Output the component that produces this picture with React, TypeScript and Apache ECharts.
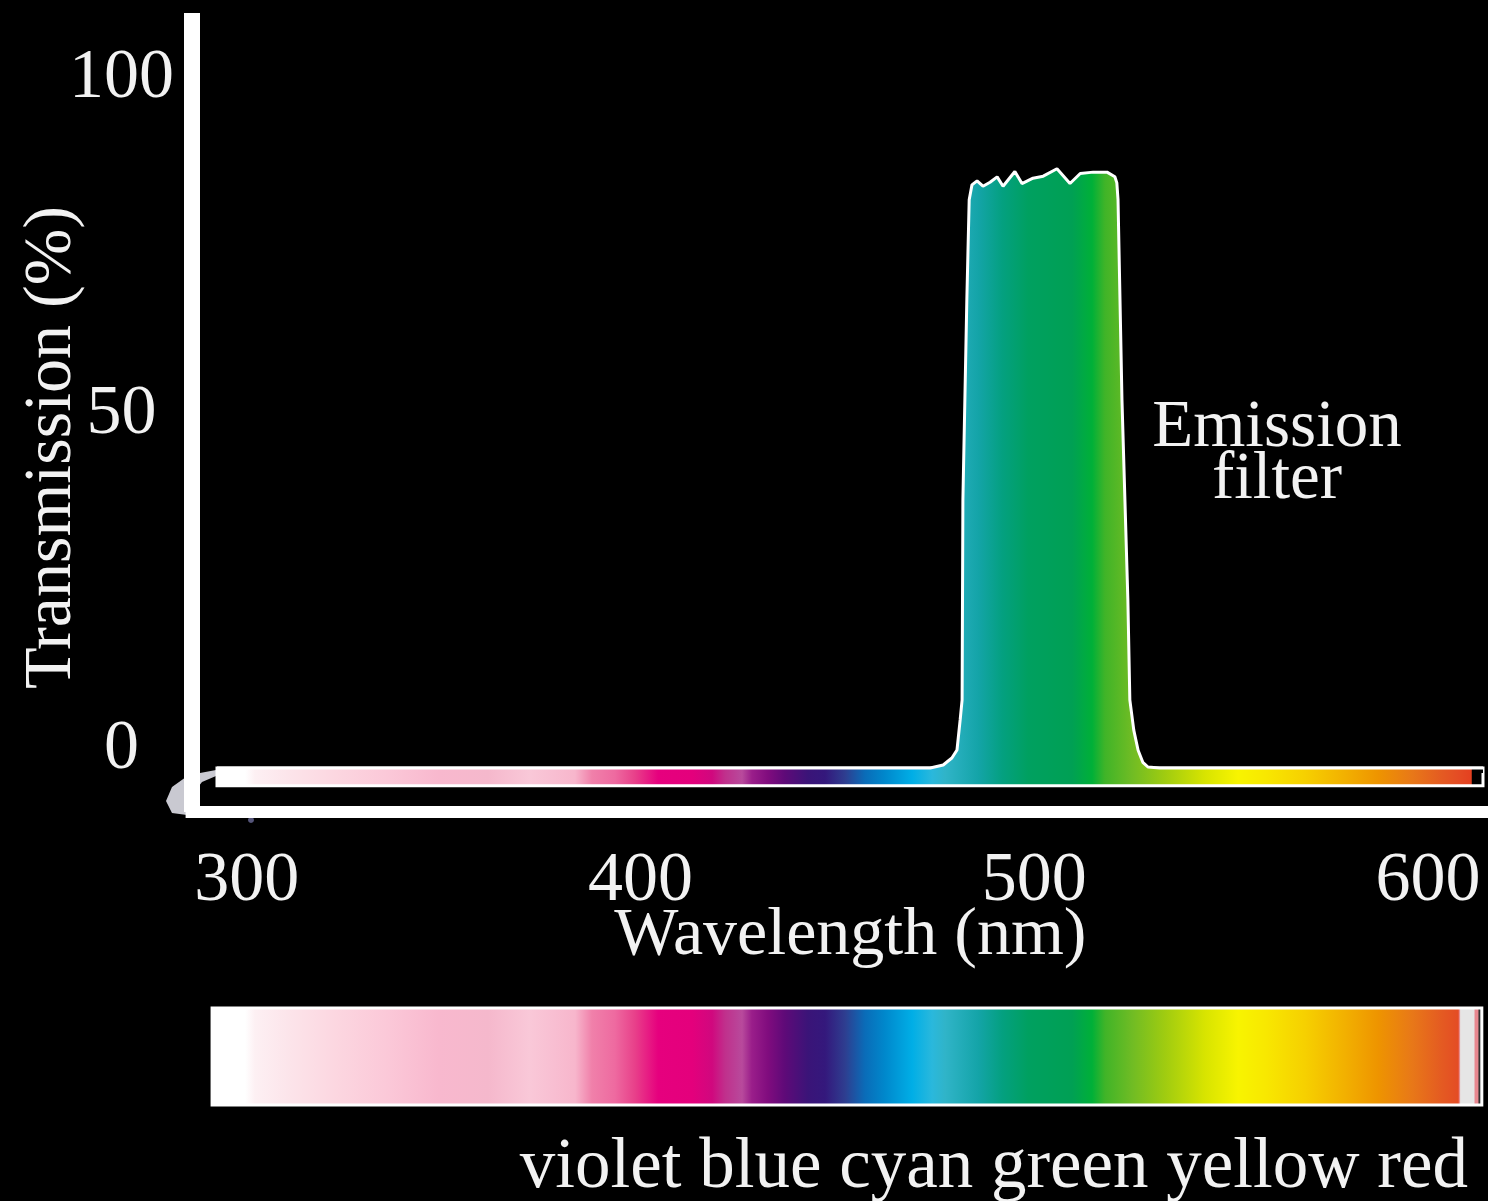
import React, { useEffect, useRef } from "react";
import * as echarts from "echarts";

// ---- data ----
const X_TICKS = [300, 400, 500, 600];
const Y_TICKS = [0, 50, 100];
const X_RANGE = [286, 614];
const Y_RANGE = [-10, 109];

// Emission filter transmission curve (wavelength nm, transmission %)
const EMISSION_NM = [
  292.45, 473.6, 476.9, 479.1, 480.4, 481.2, 481.7, 481.9, 482.9, 483.5, 484.2,
  485.5, 487.0, 488.8, 490.6, 492.1, 495.1, 496.9, 499.7, 502.3, 505.8, 509.1,
  511.7, 515.0, 518.5, 520.5, 521.0, 521.3, 522.3, 523.8, 524.3, 525.3, 526.4,
  527.6, 528.9, 531.9, 614,
];
const EMISSION_T = [
  -3.45, -3.45, -3.0, -1.96, -0.77, 3.7, 6.7, 36.5, 66.3, 81.2, 83.4,
  84.0, 83.2, 83.8, 84.6, 83.2, 85.4, 83.6, 84.4, 84.7, 85.8, 83.6,
  85.1, 85.3, 85.3, 84.6, 83.7, 81.2, 51.4, 21.6, 6.7, 2.2, -0.8,
  -2.6, -3.3, -3.45, -3.45,
];

// Spectrum strip inside the plot: [from nm, to nm, top %, bottom %]
const STRIP = [[292.45, 614, -3.45, -6.1]];

// Spectrum colour stops (wavelength nm -> colour)
const SPECTRUM_NM = [
  299.6, 302.1, 311.0, 323.2, 335.9, 348.6, 361.3, 371.9, 383.4, 387.7, 393.5,
  398.6, 404.5, 413.1, 418.2, 421.5, 425.8, 428.3, 432.4, 436.7, 442.6, 446.9,
  452.0, 457.0, 462.1, 469.0, 474.1, 477.4, 485.8, 491.9, 498.5, 509.6, 514.7,
  518.0, 524.9, 533.3, 543.4, 551.8, 558.7, 568.8, 579.0, 587.4, 596.0, 603.6,
  607.7,
];
const SPECTRUM_COLORS = [
  "#ffffff", "#fdf0f3", "#fce4ea", "#fcd6e0", "#fbc8d8", "#f8b8ce", "#f5b8cc", "#f9c8d8", "#f7b6cc", "#f080aa", "#ee6aa0",
  "#e8408a", "#e6007e", "#e4007c", "#d0087e", "#c0308c", "#b84a9c", "#9a1e8a", "#800c7e", "#5e0a78", "#3a1478", "#34187c",
  "#2e3e90", "#0a6cb8", "#0088cc", "#00aee6", "#2ab8dc", "#30b4c8", "#14a4a8", "#04a080", "#00a060", "#00a054", "#00b038",
  "#40b428", "#70bc24", "#a0cc10", "#d8e400", "#f8f400", "#f8e800", "#f6d000", "#f2b000", "#ee9400", "#e87818", "#e45a22",
  "#e44c24",
];

// Colour bar under the chart (nm range)
const BAR_NM = [291.2, 613.7];
const BAND_LABELS = "violet blue cyan green yellow red";
const FILTER_LINES = ["Emission", "filter"];

const FONT = "Liberation Serif";
const TEXT = "#f2f2f2";

function spectrumStops(a: number, b: number, tail: [number, string][]) {
  const stops: { offset: number; color: string }[] = [{ offset: 0, color: "#ffffff" }];
  const push = (nm: number, color: string) => {
    const o = Math.min(1, Math.max(0, (nm - a) / (b - a)));
    if (o >= stops[stops.length - 1].offset) stops.push({ offset: o, color });
  };
  SPECTRUM_NM.forEach((nm, i) => push(nm, SPECTRUM_COLORS[i]));
  tail.forEach(([nm, c]) => push(nm, c));
  return stops;
}

export default function App() {
  const ref = useRef<HTMLDivElement>(null);
  useEffect(() => {
    document.body.style.margin = "0";
    document.body.style.background = "#000";
    const chart = echarts.init(ref.current!, null, { renderer: "svg" });

    const stripStops = spectrumStops(STRIP[0][0], STRIP[0][1], [
      [611.0, "#e44020"],
      [611.3, "#000000"],
      [STRIP[0][1], "#000000"],
    ]);
    const stripGrad = new echarts.graphic.LinearGradient(0, 0, 1, 0, stripStops);
    const areaGrad = new echarts.graphic.LinearGradient(0, 0, 1, 0, stripStops);

    chart.setOption({
      animation: false,
      backgroundColor: "#000",
      grid: {
        left: 191.6,
        right: 5,
        top: 13,
        bottom: 389,
        containLabel: false,
        outerBoundsMode: "none",
      },
      xAxis: {
        type: "value",
        min: X_RANGE[0],
        max: X_RANGE[1],
        name: "Wavelength (nm)",
        nameLocation: "middle",
        nameGap: 119,
        nameMoveOverlap: false,
        nameTextStyle: {
          color: TEXT,
          fontFamily: FONT,
          fontSize: 68,
          lineHeight: 50,
          verticalAlign: "middle",
          padding: [0, 0, 0, 26],
        },
        axisLine: {
          show: true,
          onZero: false,
          lineStyle: { color: "#fff", width: 12, cap: "square" },
        },
        axisTick: { show: false },
        splitLine: { show: false },
        axisLabel: {
          customValues: X_TICKS,
          color: TEXT,
          fontFamily: FONT,
          fontSize: 70,
          lineHeight: 50,
          margin: 64,
          verticalAlign: "middle",
        },
      },
      yAxis: {
        type: "value",
        min: Y_RANGE[0],
        max: Y_RANGE[1],
        name: "Transmission (%)",
        nameLocation: "middle",
        nameRotate: 90,
        nameGap: 145,
        nameMoveOverlap: false,
        nameTextStyle: {
          color: TEXT,
          fontFamily: FONT,
          fontSize: 68,
          verticalAlign: "middle",
          padding: [0, 70, 0, 0],
        },
        axisLine: {
          show: true,
          onZero: false,
          lineStyle: { color: "#fff", width: 16, cap: "butt" },
        },
        axisTick: { show: false },
        splitLine: { show: false },
        axisLabel: {
          customValues: Y_TICKS,
          color: TEXT,
          fontFamily: FONT,
          fontSize: 70,
          margin: 70,
          align: "center",
        },
      },
      series: [
        {
          type: "custom",
          name: "spectrum strip",
          z: 1,
          encode: { x: [0, 1], y: [2, 3] },
          data: STRIP,
          renderItem: (_p: any, api: any) => {
            const p0 = api.coord([api.value(0), api.value(2)]);
            const p1 = api.coord([api.value(1), api.value(3)]);
            return {
              type: "rect",
              shape: { x: p0[0], y: p0[1], width: p1[0] - p0[0], height: p1[1] - p0[1] },
              style: { fill: stripGrad, stroke: "#fff", lineWidth: 3 },
            };
          },
        },
        {
          type: "line",
          name: "Emission filter",
          z: 2,
          data: EMISSION_NM.map((nm, i) => [nm, EMISSION_T[i]]),
          symbol: "none",
          showSymbol: false,
          lineStyle: { color: "#fff", width: 3 },
          areaStyle: { origin: -4.2, color: areaGrad, opacity: 1 },
        },
      ],
    });

    const bx0 = chart.convertToPixel({ xAxisIndex: 0 }, BAR_NM[0]) as number;
    const bx1 = chart.convertToPixel({ xAxisIndex: 0 }, BAR_NM[1]) as number;
    const barStops = spectrumStops(BAR_NM[0], BAR_NM[1], [
      [608.0, "#e88080"],
      [608.3, "#e6e6e6"],
      [611.7, "#e6e6e6"],
      [612.0, "#e88890"],
      [612.7, "#e88890"],
      [613.0, "#333333"],
      [BAR_NM[1], "#333333"],
    ]);

    chart.setOption({
      graphic: [
        {
          type: "rect",
          shape: { x: bx0, y: 1008, width: bx1 - bx0, height: 97 },
          style: {
            fill: new echarts.graphic.LinearGradient(0, 0, 1, 0, barStops),
            stroke: "#fff",
            lineWidth: 3,
          },
        },
        {
          type: "text",
          x: 1468,
          y: 1163,
          style: {
            text: BAND_LABELS,
            fill: TEXT,
            fontFamily: FONT,
            fontSize: 71,
            align: "right",
            verticalAlign: "middle",
          },
        },
        {
          type: "text",
          x: 1277,
          y: 423,
          style: {
            text: FILTER_LINES[0],
            fill: TEXT,
            fontFamily: FONT,
            fontSize: 67,
            lineHeight: 48,
            align: "center",
            verticalAlign: "middle",
          },
        },
        {
          type: "text",
          x: 1277,
          y: 475,
          style: {
            text: FILTER_LINES[1],
            fill: TEXT,
            fontFamily: FONT,
            fontSize: 67,
            lineHeight: 48,
            align: "center",
            verticalAlign: "middle",
          },
        },
        {
          type: "polygon",
          shape: {
            points: [
              [200, 773], [216, 770], [216, 776], [202, 782], [192, 795],
              [187, 815], [172, 813], [166, 801], [172, 787], [186, 777],
            ],
          },
          style: { fill: "#c9c9d1" },
        },
        {
          type: "circle",
          shape: { cx: 251, cy: 820, r: 3 },
          style: { fill: "#55557a" },
        },
      ],
    });

    return () => chart.dispose();
  }, []);
  return (
    <div
      ref={ref}
      style={{ position: "fixed", left: 0, top: 0, width: 1488, height: 1201, background: "#000" }}
    />
  );
}
